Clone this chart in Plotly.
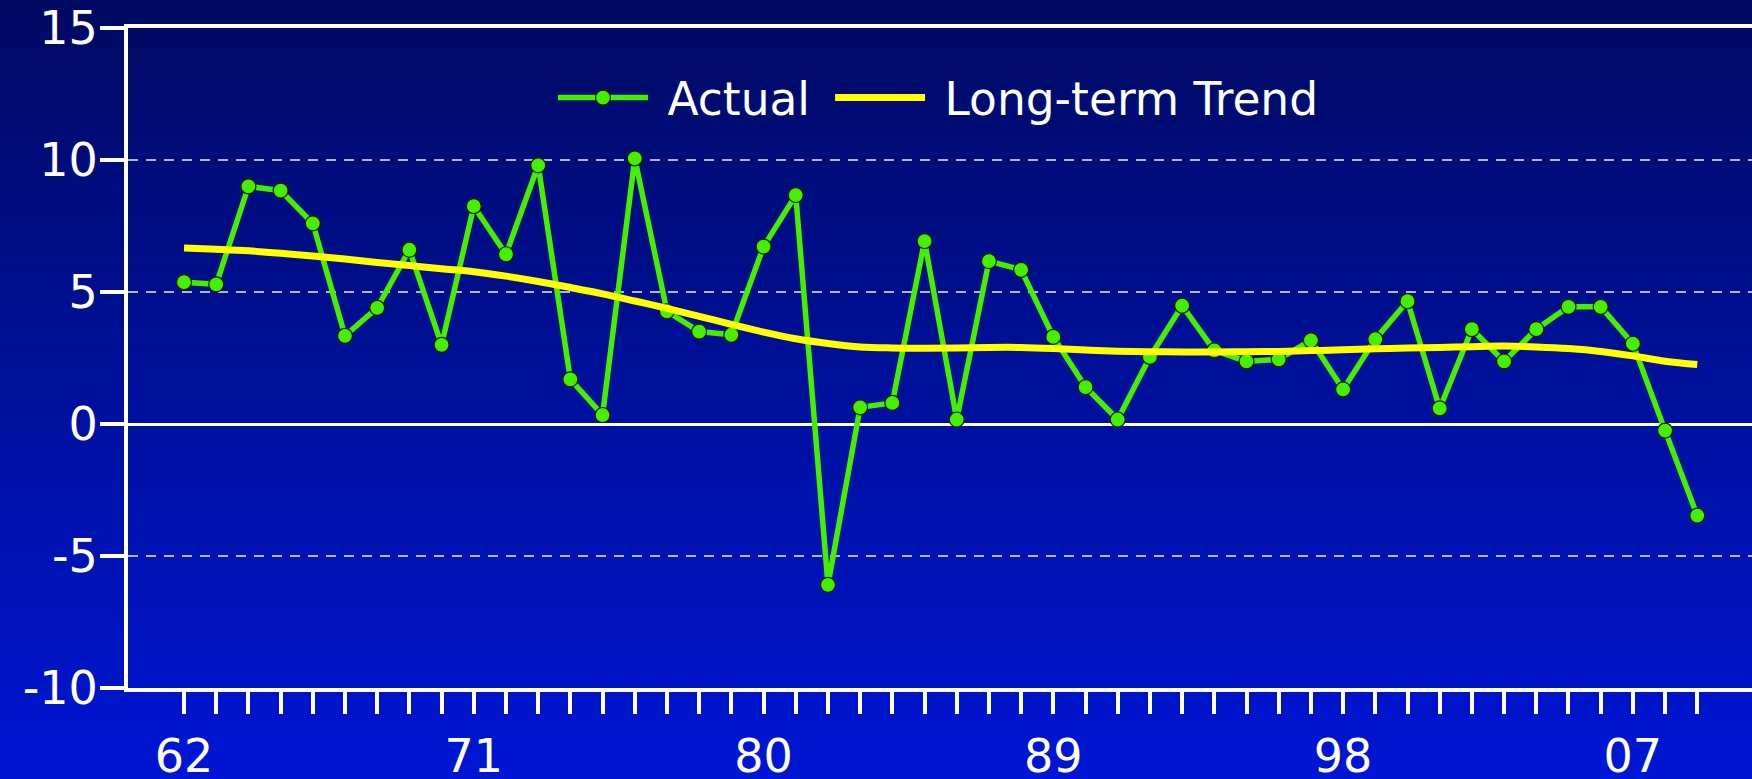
import plotly.graph_objects as go

years = list(range(1962, 2010))
actual = [5.37, 5.29, 9.0, 8.84, 7.6, 3.34, 4.4, 6.6, 3.0, 8.25,
          6.43, 9.8, 1.69, 0.34, 10.06, 4.27, 3.5, 3.38, 6.72, 8.67,
          -6.09, 0.63, 0.8, 6.93, 0.17, 6.17, 5.84, 3.3, 1.4, 0.17,
          2.54, 4.48, 2.79, 2.37, 2.45, 3.17, 1.31, 3.21, 4.65, 0.59,
          3.59, 2.37, 3.59, 4.44, 4.44, 3.04, -0.25, -3.47]
trend = [6.67, 6.62, 6.56, 6.47, 6.36, 6.25, 6.12, 6.0, 5.88, 5.77,
         5.6, 5.4, 5.17, 4.93, 4.66, 4.38, 4.08, 3.77, 3.48, 3.23,
         3.05, 2.92, 2.88, 2.87, 2.88, 2.9, 2.9, 2.86, 2.8, 2.76,
         2.74, 2.73, 2.73, 2.74, 2.75, 2.78, 2.81, 2.85, 2.88, 2.9,
         2.93, 2.95, 2.92, 2.86, 2.75, 2.58, 2.38, 2.25]
label_years = [1962, 1971, 1980, 1989, 1998, 2007]
tick_text = [("%02d" % (y % 100)) if y in label_years else "" for y in years]
y_ticks = [-10, -5, 0, 5, 10, 15]
y_tick_text = ["-10", "-5", "0", "5", "10", "15"]
series_names = ["Actual", "Long-term Trend"]

W, H = 1752, 779
ml, mr, mt, mb = 128, 0, 28, 91
pw, ph = W - ml - mr, H - mt - mb

fig = go.Figure()
fig.add_trace(go.Scatter(
    x=years, y=actual, name="\u00a0" + series_names[0], mode="lines+markers",
    line=dict(color="#44f000", width=5.5),
    marker=dict(size=15, color="#44f000", line=dict(color="#102000", width=1.2)),
    legend="legend",
))
fig.add_trace(go.Scatter(
    x=years, y=trend, name="\u00a0" + series_names[1], mode="lines",
    line=dict(color="#ffff00", width=7, shape="spline", smoothing=1),
    legend="legend2",
))

# vertical gradient background
n = 160
top = (0, 10, 98)
bot = (0, 22, 212)
y0p = -mb / ph
y1p = 1 + mt / ph
shapes = []
for i in range(n):
    t = i / (n - 1)
    c = tuple(round(top[k] + (bot[k] - top[k]) * t) for k in range(3))
    ya = y1p - (y1p - y0p) * i / n
    yb = y1p - (y1p - y0p) * (i + 1) / n
    shapes.append(dict(type="rect", xref="paper", yref="paper",
                       x0=-ml / pw - 0.02, x1=1.02, y0=yb - 0.003, y1=ya + 0.003,
                       line=dict(width=0), fillcolor="rgb(%d,%d,%d)" % c,
                       layer="below"))
shapes[0]["y1"] = y1p + 0.05
shapes[-1]["y0"] = y0p - 0.05

font = "DejaVu Sans, Verdana, sans-serif"
leg_common = dict(orientation="h", xanchor="left", yanchor="middle",
                  bgcolor="rgba(0,0,0,0)", font=dict(size=45.5, color="white", family=font),
                  itemwidth=90)
fig.update_layout(
    width=W, height=H,
    margin=dict(l=ml, r=mr, t=mt, b=mb, autoexpand=False),
    paper_bgcolor="#000a62",
    plot_bgcolor="rgba(0,0,0,0)",
    shapes=shapes,
    font=dict(family=font, color="white", size=44),
    showlegend=True,
    legend=dict(x=0.2617, y=0.894, **leg_common),
    legend2=dict(x=0.4323, y=0.894, **leg_common),
    xaxis=dict(
        range=[1960.26, 2010.7], automargin=False,
        tickmode="array", tickvals=years, ticktext=tick_text,
        ticks="outside", ticklen=22, tickwidth=4, tickcolor="white",
        showline=True, linecolor="white", linewidth=4, mirror=True,
        showgrid=False, zeroline=False,
        tickfont=dict(size=46, color="white", family=font),
        ticklabelstandoff=3,
    ),
    yaxis=dict(
        range=[-10, 15], automargin=False,
        tickmode="array", tickvals=y_ticks, ticktext=y_tick_text,
        ticks="outside", ticklen=24, tickwidth=4, tickcolor="white",
        showline=True, linecolor="white", linewidth=4,
        showgrid=True, gridcolor="rgba(210,210,230,0.85)", gridwidth=1.5,
        griddash="10px,8px",
        zeroline=True, zerolinecolor="white", zerolinewidth=3,
        tickfont=dict(size=46, color="white", family=font),
        ticklabelstandoff=-7,
    ),
)

fig.write_html("out.html", config={"displayModeBar": False},
               post_script="document.body.style.margin='0';document.body.style.overflow='hidden';")
